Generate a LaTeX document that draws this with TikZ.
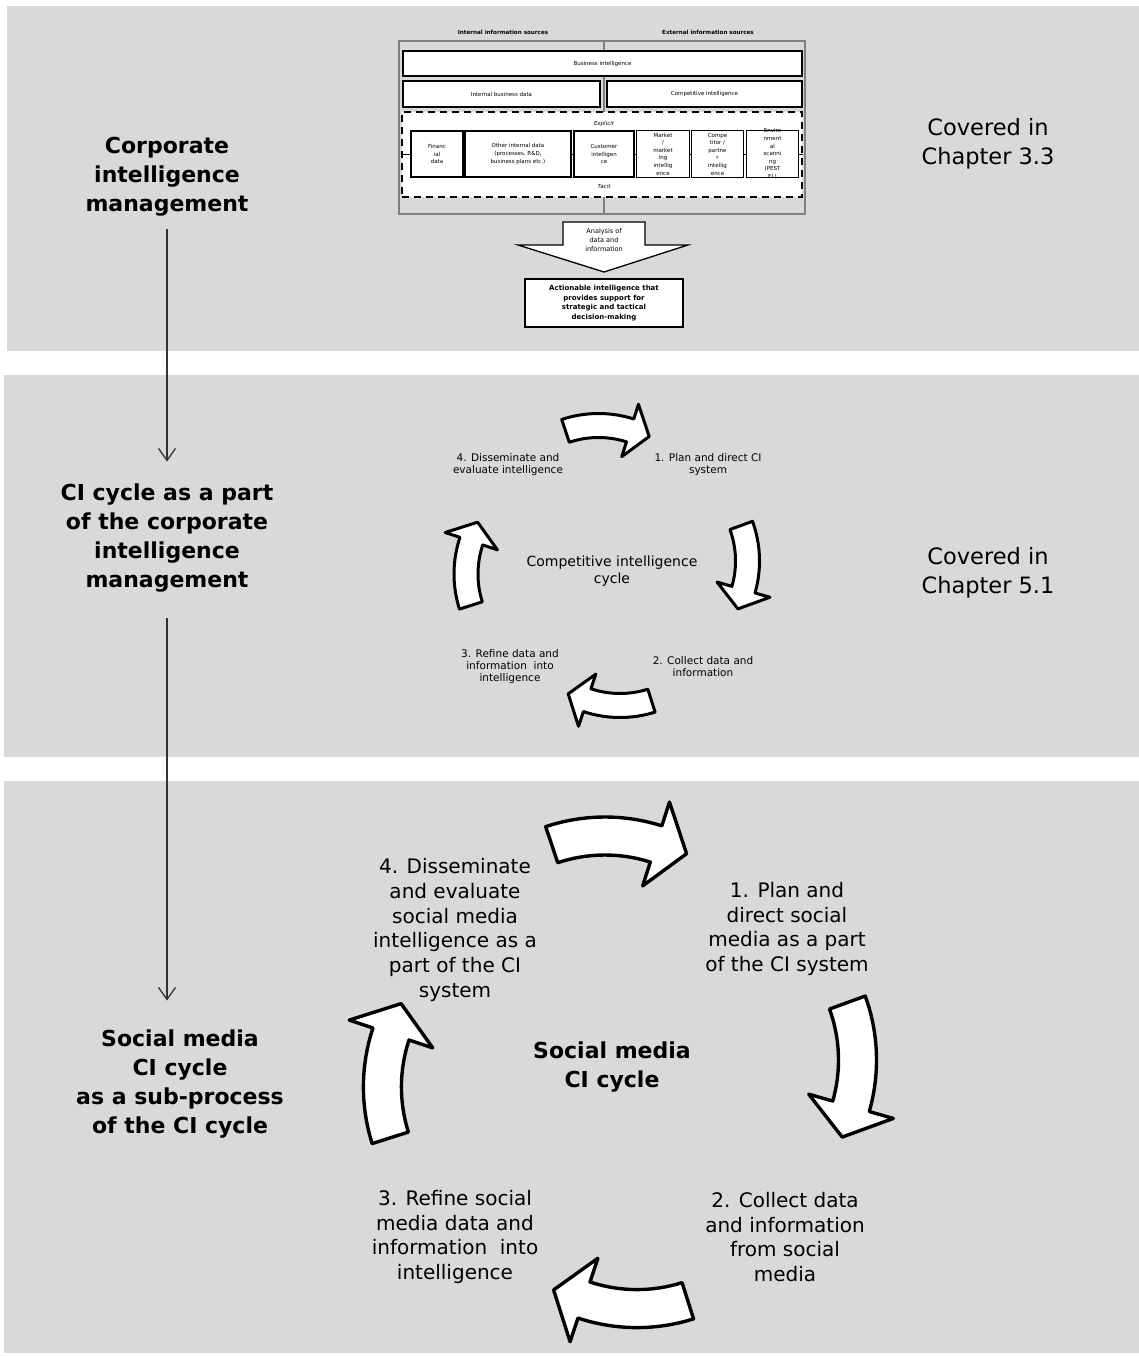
\documentclass[tikz,border=0pt]{standalone}
\usepackage{fontspec}
\setmainfont{DejaVu Sans}
\usetikzlibrary{calc,arrows.meta}
\definecolor{panelgray}{HTML}{D9D9D9}
\definecolor{framegray}{HTML}{808080}
\definecolor{linkgray}{HTML}{333333}
\newcommand\fs[2]{\fontsize{#1}{#2}\selectfont}

% curved block arrow along a circle: #1 name, #2 centre, #3 start angle, #4 end angle
% sizes are taken from \aR (radius), \aW (shaft width), \aH (head width), \aL (head length)
\newcommand\cycarrow[4]{%
  \coordinate (#1) at #2;
  \draw[cycarrow] ($(#1)+(#3:{\aR+\aW/2})$)
    arc[start angle=#3, end angle=#4, radius={\aR+\aW/2}]
    -- ($(#1)+(#4:{\aR+\aH/2})$)
    -- ($(#1)+(#4:\aR)+({#4+90}:\aL)$)
    -- ($(#1)+(#4:{\aR-\aH/2})$)
    -- ($(#1)+(#4:{\aR-\aW/2})$)
    arc[start angle=#4, end angle=#3, radius={\aR-\aW/2}]
    -- cycle;
}

\begin{document}
\begin{tikzpicture}[x=1pt,y=-1pt,
  cycarrow/.style={draw=black,fill=white,line join=round,line width=\aLW},
  sidelabel/.style={font=\bfseries\fs{22}{29}, align=center, inner sep=2pt, text=black},
  covered/.style={font=\fs{22.5}{29}, align=center, text=black},
  link/.style={draw=linkgray, line width=1.3pt, -{Straight Barb[length=12pt,width=17pt,line width=1.3pt]}},
  sbox/.style={draw=black, fill=white, line width=1.3pt, inner sep=0pt, align=center},
  blank/.style={fill=white, inner sep=0pt},
  tiny/.style={font=\fs{5.5}{7.6}},
  smalltext/.style={font=\fs{10.5}{12}, align=center},
  bigtext/.style={font=\fs{20}{24.7}, align=center},
]
\useasboundingbox (0,0) rectangle (1139,1356);

% background panels
\fill[panelgray] (7,6) rectangle (1139,351);
\fill[panelgray] (4,375) rectangle (1139,757);
\fill[panelgray] (4,781) rectangle (1139,1353);

% left column labels and links
\node[sidelabel] (corp) at (167,177) {Corporate\\intelligence\\management};
\node[sidelabel] (ci) at (167,538) {CI cycle as a part\\of the corporate\\intelligence\\management};
\node[sidelabel] (smci) at (180,1084) {Social media\\CI cycle\\as a sub-process\\of the CI cycle};
\draw[link, shorten <=10pt, shorten >=20pt] (corp) -- (ci);
\draw[link, shorten <=24pt, shorten >=27pt] (ci.south) -- (ci.south |- smci.north);

% right column
\node[covered] (cov1) at (988,144) {Covered in\\Chapter 3.3};
\node[covered] (cov2) at (988,573) {Covered in\\Chapter 5.1};

% ---- information sources ----
\draw[framegray, line width=2.8pt] (399,41) rectangle (805,214);
\draw[framegray, line width=2.8pt] (604,41) -- (604,214);
\node[tiny, font=\bfseries\fs{5.6}{7}] (hin) at (503,32) {Internal information sources};
\node[tiny, font=\bfseries\fs{5.6}{7}] (hex) at (708,32) {External information sources};

\node[sbox, minimum width=399pt, minimum height=25pt, tiny] (bi) at (602.5,63.5) {Business intelligence};
\node[sbox, minimum width=197pt, minimum height=26pt, tiny] (ibd) at (501.5,94) {Internal business data};
\node[sbox, minimum width=195pt, minimum height=26pt, tiny] (cint) at (704.5,94) {Competitive intelligence};

\node[draw=black, fill=white, line width=1.3pt, dash pattern=on 7pt off 5pt,
      minimum width=400pt, minimum height=85pt, inner sep=0pt] (kn) at (602,154.5) {};
\draw[black, line width=1pt] (kn.west) -- (kn.east);
\node[tiny, font=\itshape\fs{5.5}{7}] (expl) at (604,124) {Explicit};
\node[tiny, font=\itshape\fs{5.5}{7}] (tac) at (604,186) {Tacit};

\node[sbox, minimum width=52pt, minimum height=46pt, tiny] (fin) at (437,154) {Financ\\ial\\data};
\node[sbox, minimum width=106pt, minimum height=46pt, tiny] (oth) at (518,154) {Other internal data\\(processes, R\&D,\\business plans etc.)};
\node[sbox, minimum width=60pt, minimum height=46pt, tiny] (cust) at (604,154) {Customer\\intelligen\\ce};
% the three narrow boxes keep their size; their text runs under the frame
\node[blank, minimum width=52pt, minimum height=46pt] (mkt) at (663,154) {};
\node[blank, minimum width=51pt, minimum height=46pt] (comp) at (717.5,154) {};
\node[blank, minimum width=51pt, minimum height=46pt] (env) at (772.5,154) {};
\node[tiny, align=center, inner sep=0pt] (mktt) at (mkt) {Market\\/\\market\\ing\\intellig\\ence};
\node[tiny, align=center, inner sep=0pt] (compt) at (comp) {Compe\\titor /\\partne\\r\\intellig\\ence};
\node[tiny, align=center, inner sep=0pt] (envt) at (env) {Enviro\\nment\\al\\scanni\\ng\\(PEST\\EL)};
\foreach \b in {mkt,comp,env}
  \draw[black, line width=1.3pt] (\b.north west) rectangle (\b.south east);

% analysis block arrow and result
\draw[black, fill=white, line width=1.3pt, line join=miter]
  (563,222) -- (645,222) -- (645,245) -- (688,245) -- (604,272) -- (518,245) -- (563,245) -- cycle;
\node[font=\fs{6.5}{8.8}, align=center] (ana) at (604,240) {Analysis of\\data and\\information};
\node[sbox, minimum width=158pt, minimum height=48pt, font=\bfseries\fs{7}{9.6}] (act) at (604,303)
  {Actionable intelligence that\\provides support for\\strategic and tactical\\decision-making};

% ---- competitive intelligence cycle ----
\def\aR{104}\def\aW{24}\def\aH{55}\def\aL{20}\def\aLW{3pt}
\cycarrow{ma1}{(598.5,529.5)}{-108.5}{-72.3}
\cycarrow{ma2}{(643.5,561)}{-20}{16}
\cycarrow{ma3}{(620,601.5)}{72.4}{108.4}
\cycarrow{ma4}{(570,574)}{162.4}{198.4}

\node[smalltext] (m4) at (508,465) {4. Disseminate and\\evaluate intelligence};
\node[smalltext] (m1) at (708,465) {1. Plan and direct CI\\system};
\node[font=\fs{14}{17}, align=center] (mc) at (612,571) {Competitive intelligence\\cycle};
\node[smalltext] (m3) at (510,667) {3. Refine data and\\information\ \ into\\intelligence};
\node[smalltext] (m2) at (703,667) {2. Collect data and\\information};

% ---- social media CI cycle ----
\def\aR{168}\def\aW{38}\def\aH{88}\def\aL{32}\def\aLW{3.4pt}
\cycarrow{sa1}{(605,1004)}{-108.5}{-72.3}
\cycarrow{sa2}{(689.5,1060)}{-20}{16}
\cycarrow{sa3}{(637,1140.6)}{72.4}{108.4}
\cycarrow{sa4}{(550.4,1087)}{162.4}{198.4}

\node[bigtext] (s4) at (455,930) {4. Disseminate\\and evaluate\\social media\\intelligence as a\\part of the CI\\system};
\node[bigtext] (s1) at (787,929) {1. Plan and\\direct social\\media as a part\\of the CI system};
\node[font=\bfseries\fs{22}{29}, align=center] (sc) at (612,1067) {Social media\\CI cycle};
\node[bigtext] (s3) at (455,1237) {3. Refine social\\media data and\\information\ \ into\\intelligence};
\node[bigtext] (s2) at (785,1237) {2. Collect data\\and information\\from social\\media};
\end{tikzpicture}
\end{document}
